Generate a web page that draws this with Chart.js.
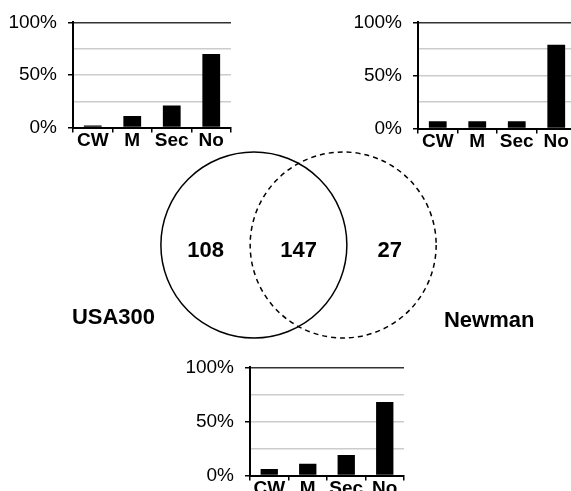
<!DOCTYPE html>
<html>
<head>
<meta charset="utf-8">
<script src="https://cdn.jsdelivr.net/npm/chart.js@4.4.0/dist/chart.umd.min.js"></script>
<style>
    html, body { margin: 0; padding: 0; background: #fff; overflow: hidden; width: 571px; height: 491px; }
    canvas { position: absolute; }
</style>
</head>
<body>
<canvas id="usaChart" width="240" height="150" style="left:0;top:0"></canvas>
<canvas id="newmanChart" width="240" height="151" style="left:345px;top:0"></canvas>
<canvas id="vennChart" width="571" height="210" style="left:0;top:140px"></canvas>
<canvas id="sharedChart" width="236" height="153" style="left:177px;top:345px"></canvas>
<script>
// bar chart data (percent of proteins per location)
const categories = ["CW", "M", "Sec", "No"];
const usaValues = [2, 11, 21, 70];
const newmanValues = [7, 7, 7, 79];
const sharedValues = [6, 11, 19, 68];
const yTickValues = [0, 25, 50, 75, 100];

// venn data
const vennSets = ["USA300", "Newman"];
const vennCounts = [108, 147, 27];

// venn layout (in venn units, radius = 1)
const vennCenters = [-0.48, 0.48];
const vennCountX = [-1.0, 0, 0.98];
const vennCountY = [-0.06, -0.06, -0.06];
const vennNameX = [-1.99, 2.05];
const vennNameY = [-0.78, -0.82];

const fontFamily = "'Liberation Sans', Arial, sans-serif";

function barOptions(padTop) {
    return {
        responsive: false,
        animation: false,
        layout: { padding: { top: padTop, right: 9, left: 0, bottom: 0 } },
        plugins: { legend: { display: false }, tooltip: { enabled: false } },
        scales: {
            x: {
                type: "category",
                offset: true,
                grid: { offset: true, drawOnChartArea: false, color: "#000", lineWidth: 1.5, tickLength: 5 },
                border: { color: "#000", width: 2 },
                ticks: { color: "#000", padding: -3, maxRotation: 0, autoSkip: false,
                         font: { family: fontFamily, size: 19, weight: "bold" } },
                afterFit: s => { s.height = 22; }
            },
            y: {
                min: 0,
                max: 100,
                afterBuildTicks: s => { s.ticks = yTickValues.map(v => ({ value: v })); },
                ticks: { color: "#000", padding: 11, font: { family: fontFamily, size: 19 },
                         callback: v => v % 50 === 0 ? v + "%" : "" },
                grid: {
                    color: c => c.tick && c.tick.value === 100 ? "#333" : "#cccccc",
                    lineWidth: 1.5,
                    tickLength: 5,
                    tickColor: c => c.tick && c.tick.value % 50 === 0 ? "#000" : "rgba(0,0,0,0)"
                },
                border: { color: "#000", width: 2 },
                afterFit: s => { s.width = 73; }
            }
        }
    };
}

function drawBarChart(id, values, padTop) {
    new Chart(document.getElementById(id), {
        type: "bar",
        data: {
            labels: categories,
            datasets: [{
                data: values,
                backgroundColor: "#000",
                barPercentage: 0.45,
                categoryPercentage: 1
            }]
        },
        options: barOptions(padTop)
    });
}

drawBarChart("usaChart", usaValues, 19);
drawBarChart("newmanChart", newmanValues, 20);
drawBarChart("sharedChart", sharedValues, 19);

// circles and labels of the venn diagram
const vennPlugin = {
    id: "venn",
    afterDatasetsDraw(chart) {
        const { ctx, scales: { x, y } } = chart;
        const r = x.getPixelForValue(1) - x.getPixelForValue(0);
        vennCenters.forEach((cx, i) => {
            ctx.save();
            ctx.beginPath();
            ctx.arc(x.getPixelForValue(cx), y.getPixelForValue(0), r, 0, Math.PI * 2);
            ctx.setLineDash(i === 1 ? [5, 4] : []);
            ctx.lineWidth = 1.5;
            ctx.strokeStyle = "#000";
            ctx.stroke();
            ctx.restore();
        });
        ctx.save();
        ctx.fillStyle = "#000";
        ctx.textAlign = "center";
        ctx.textBaseline = "middle";
        ctx.font = "bold 22px " + fontFamily;
        chart.getDatasetMeta(0).data.forEach((pt, i) => {
            ctx.fillText(String(vennCounts[i]), pt.x, pt.y);
        });
        chart.getDatasetMeta(1).data.forEach((pt, i) => {
            ctx.fillText(vennSets[i], pt.x, pt.y);
        });
        ctx.restore();
    }
};

new Chart(document.getElementById("vennChart"), {
    type: "scatter",
    data: {
        datasets: [
            { data: vennCounts.map((c, i) => ({ x: vennCountX[i], y: vennCountY[i] })), pointRadius: 0 },
            { data: vennSets.map((s, i) => ({ x: vennNameX[i], y: vennNameY[i] })), pointRadius: 0 }
        ]
    },
    options: {
        responsive: false,
        animation: false,
        layout: { padding: 0 },
        plugins: { legend: { display: false }, tooltip: { enabled: false } },
        scales: {
            x: { type: "linear", display: false, min: -3.21, max: 2.93 },
            y: { type: "linear", display: false, min: -1.129, max: 1.129 }
        }
    },
    plugins: [vennPlugin]
});
</script>
</body>
</html>
